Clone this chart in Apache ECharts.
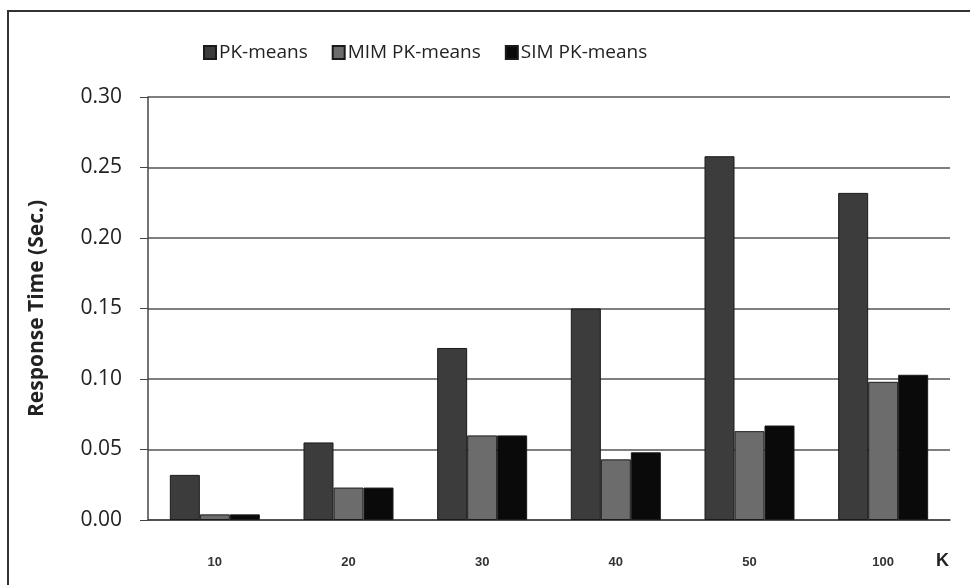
<!DOCTYPE html>
<html>
<head>
<meta charset="utf-8">
<script src="https://cdn.jsdelivr.net/npm/echarts@6/dist/echarts.min.js"></script>
<style>
html,body{margin:0;padding:0;background:#fff;}
#c{width:970px;height:585px;}
</style>
</head>
<body>
<div id="c"></div>
<script>
var categories = ['10', '20', '30', '40', '50', '100'];
var pkMeans = [0.032, 0.055, 0.122, 0.150, 0.258, 0.232];
var mimPkMeans = [0.004, 0.023, 0.060, 0.043, 0.063, 0.098];
var simPkMeans = [0.004, 0.023, 0.060, 0.048, 0.067, 0.103];
var yTicks = [0, 0.05, 0.10, 0.15, 0.20, 0.25, 0.30];

var chart = echarts.init(document.getElementById('c'), null, {renderer: 'canvas'});
var barBorder = {borderColor: '#1a1a1a', borderWidth: 1};
chart.setOption({
  backgroundColor: '#fff',
  animation: false,
  graphic: [{
    type: 'rect',
    shape: {x: 8, y: 11, width: 1000, height: 620},
    style: {fill: 'none', stroke: '#333', lineWidth: 2},
    silent: true
  }],
  legend: {
    top: 38,
    left: 198,
    icon: 'rect',
    itemWidth: 12,
    itemHeight: 13,
    itemGap: 24,
    textStyle: {fontFamily: 'Open Sans', fontSize: 19, color: '#222', padding: [0, 0, 0, -2]},
    data: ['PK-means', 'MIM PK-means', 'SIM PK-means']
  },
  grid: {left: 148, right: 20, top: 97, bottom: 65},
  xAxis: {
    type: 'category',
    data: categories,
    name: 'K',
    nameLocation: 'end',
    nameGap: -14,
    nameTextStyle: {fontFamily: 'Liberation Sans', fontWeight: 'bold', fontSize: 18, color: '#222', verticalAlign: 'top', padding: [32, 0, 0, 0]},
    axisLine: {lineStyle: {color: '#444', width: 1.5}},
    axisTick: {show: false},
    axisLabel: {margin: 36, fontFamily: 'Liberation Sans', fontWeight: 'bold', fontSize: 13, color: '#333'}
  },
  yAxis: {
    type: 'value',
    min: 0,
    max: 0.30,
    interval: 0.05,
    name: 'Response Time (Sec.)',
    nameLocation: 'middle',
    nameGap: 100,
    nameTextStyle: {fontFamily: 'Open Sans', fontWeight: 'bold', fontSize: 21, color: '#222'},
    axisLine: {show: true, lineStyle: {color: '#444', width: 1.5}},
    axisTick: {show: true, length: 8, lineStyle: {color: '#444'}},
    splitLine: {lineStyle: {color: '#555', width: 1.5}},
    axisLabel: {
      margin: 26,
      fontFamily: 'Open Sans',
      fontSize: 21,
      color: '#222',
      formatter: function (v) {
        var i = yTicks.findIndex(function (t) { return Math.abs(t - v) < 1e-9; });
        return i >= 0 ? yTicks[i].toFixed(2) : '';
      }
    }
  },
  series: [
    {name: 'PK-means', type: 'bar', data: pkMeans, barWidth: 30, barGap: '0%',
     itemStyle: Object.assign({color: '#3c3c3c'}, barBorder)},
    {name: 'MIM PK-means', type: 'bar', data: mimPkMeans, barWidth: 30, barGap: '0%',
     itemStyle: Object.assign({color: '#6c6c6c'}, barBorder)},
    {name: 'SIM PK-means', type: 'bar', data: simPkMeans, barWidth: 30, barGap: '0%',
     itemStyle: Object.assign({color: '#0a0a0a'}, barBorder)}
  ]
});
</script>
</body>
</html>
